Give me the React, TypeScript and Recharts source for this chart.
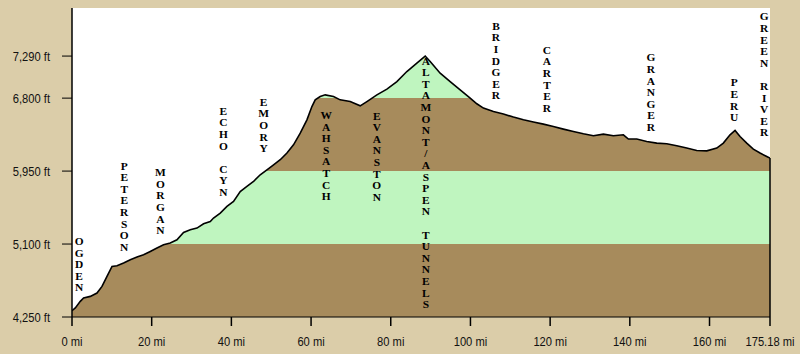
import React from 'react';
import { ComposedChart, Area, XAxis, YAxis, CartesianGrid, ReferenceDot, ReferenceLine } from 'recharts';

// Elevation profile (miles from Ogden, feet)
const miles = [
  0, 0.83, 2.08, 2.91, 4.59, 6.27, 7.53, 8.78, 10.04, 11.29, 12.95, 14.63, 16.31, 17.96, 19.64, 21.32,
  22.98, 24.66, 26.34, 28.0, 29.68, 31.36, 33.02, 34.7, 35.52, 37.21, 38.89, 40.54, 42.22, 43.9, 45.56,
  47.24, 48.92, 50.58, 52.26, 53.94, 55.59, 57.28, 58.96, 60.21, 61.04, 62.29, 63.55, 65.63, 67.31, 69.82,
  72.33, 74.01, 76.52, 79.03, 81.54, 84.04, 86.55, 88.64, 89.89, 92.4, 94.91, 97.42, 99.93, 101.6, 103.26,
  105.77, 108.28, 110.79, 113.3, 115.81, 118.31, 120.82, 123.33, 125.84, 128.35, 130.86, 133.37, 135.87,
  138.38, 139.64, 141.75, 144.25, 146.76, 149.27, 151.78, 154.29, 156.8, 159.31, 161.82, 163.47, 165.15,
  166.41, 167.66, 169.34, 171.0, 172.68, 174.36, 175.18,
];
const elevation = [
  4323, 4355, 4432, 4471, 4490, 4529, 4606, 4723, 4839, 4847, 4879, 4917, 4949, 4975, 5014, 5053,
  5092, 5112, 5150, 5235, 5267, 5286, 5336, 5363, 5403, 5461, 5538, 5596, 5712, 5771, 5829,
  5907, 5965, 6023, 6082, 6160, 6256, 6392, 6547, 6702, 6780, 6819, 6838, 6819, 6780, 6760,
  6710, 6760, 6838, 6905, 6993, 7110, 7208, 7290, 7226, 7091, 6993, 6897, 6800, 6734, 6684,
  6644, 6614, 6579, 6547, 6521, 6497, 6469, 6439, 6411, 6384, 6361, 6381, 6361,
  6373, 6323, 6323, 6295, 6276, 6268, 6245, 6218, 6190, 6186, 6218, 6276, 6373,
  6423, 6353, 6276, 6206, 6160, 6120, 6101,
];

const elevationTicks = [4250, 5100, 5950, 6800, 7290];
const mileTicks = [0, 20, 40, 60, 80, 100, 120, 140, 160, 175.18];
const bandsGreen = [[5100, 5950], [6800, 7290]];

const townNames = ['OGDEN', 'PETERSON', 'MORGAN', 'ECHO CYN', 'EMORY', 'WAHSATCH', 'EVANSTON',
  'ALTAMONT/ASPEN TUNNELS', 'BRIDGER', 'CARTER', 'GRANGER', 'PERU', 'GREEN RIVER'];
const townMiles = [1.8, 13.1, 22.2, 38.0, 48.1, 63.8, 76.5, 88.8, 106.4, 119.2, 145.3, 166.2, 173.7];
const townLabelTops = [5185, 6062, 5985, 6702, 6807, 6652, 6645, 7285, 7692, 7413, 7324, 7033, 7801];

const BASE = 4250;
const TOP = 7850;
const BG = '#dbcda9';
const BROWN = '#a78b5c';
const GREEN = '#bff5bf';

const data = miles.map((m, i) => ({ mile: m, elev: elevation[i] }));
const maxE = Math.max(...elevation);
const off = (v: number) => Math.min(1, Math.max(0, (maxE - v) / (maxE - BASE)));

function buildStops() {
  const stops: { o: number; c: string }[] = [];
  const bounds: { v: number; green: boolean }[] = [];
  bandsGreen.forEach(([lo, hi]) => {
    bounds.push({ v: hi, green: true });
    bounds.push({ v: lo, green: false });
  });
  bounds.sort((a, b) => b.v - a.v);
  let current = bounds.length && bounds[0].v >= maxE ? GREEN : BROWN;
  stops.push({ o: 0, c: current });
  bounds.forEach((b) => {
    if (b.v >= maxE) return;
    const o = off(b.v);
    stops.push({ o, c: current });
    current = b.green ? GREEN : BROWN;
    stops.push({ o, c: current });
  });
  stops.push({ o: 1, c: current });
  return stops;
}

const StackLabel = (props: any) => {
  const { cx, cy, name } = props;
  if (cx == null || cy == null) return null;
  const chars = name.split('');
  return (
    <text
      x={cx}
      y={cy}
      textAnchor="middle"
      fontFamily="'Liberation Serif', 'DejaVu Serif', serif"
      fontWeight="bold"
      fontSize={11.4}
      fill="#000"
    >
      {chars.map((ch: string, i: number) => (
        <tspan key={i} x={cx} dy={i === 0 ? 8.2 : 11.6}>
          {ch === ' ' ? '\u00a0' : ch}
        </tspan>
      ))}
    </text>
  );
};

const tickFont = "'Liberation Sans', Arial, sans-serif";

const YTick = (props: any) => {
  const { x, y, payload } = props;
  const label = `${Number(payload.value).toLocaleString('en-US')} ft`;
  return (
    <g transform={`translate(${x},${y})`}>
      <text x={0} y={0} dy="0.36em" textAnchor="end" fill="#111" fontSize={13} fontFamily={tickFont} transform="scale(0.86,1)">
        {label}
      </text>
    </g>
  );
};

const XTick = (props: any) => {
  const { x, y, payload } = props;
  const label = `${payload.value} mi`;
  return (
    <g transform={`translate(${x},${y})`}>
      <text x={0} y={0} dy="0.72em" textAnchor="middle" fill="#111" fontSize={13} fontFamily={tickFont} transform="scale(0.86,1)">
        {label}
      </text>
    </g>
  );
};

export default function App() {
  const stops = buildStops();
  return (
    <div style={{ position: 'absolute', left: 0, top: 0, width: 800, height: 354, background: BG }}>
      <ComposedChart
        width={800}
        height={354}
        data={data}
        margin={{ top: 8, right: 30, bottom: 0, left: 0 }}
      >
        <defs>
          <linearGradient id="profileFill" x1="0" y1="0" x2="0" y2="1">
            {stops.map((s, i) => (
              <stop key={i} offset={s.o} stopColor={s.c} stopOpacity={1} />
            ))}
          </linearGradient>
        </defs>
        <CartesianGrid horizontal={false} vertical={false} fill="#ffffff" fillOpacity={1} stroke="none" />
        <XAxis
          dataKey="mile"
          type="number"
          domain={[0, 175.18]}
          ticks={mileTicks}
          interval={0}
          height={37}
          tickSize={9}
          tickMargin={11}
          axisLine={{ stroke: '#000', strokeWidth: 1 }}
          tickLine={{ stroke: '#000', strokeWidth: 1.5 }}
          tick={<XTick />}
          allowDataOverflow
        />
        <YAxis
          type="number"
          domain={[BASE, TOP]}
          ticks={elevationTicks}
          interval={0}
          width={72}
          tickSize={10}
          tickMargin={12}
          axisLine={{ stroke: '#000', strokeWidth: 1.5 }}
          tickLine={{ stroke: '#000', strokeWidth: 1 }}
          tick={<YTick />}
          allowDataOverflow
        />
        <Area
          type="linear"
          dataKey="elev"
          baseValue={BASE}
          stroke="#000"
          strokeWidth={1.6}
          fill="url(#profileFill)"
          fillOpacity={1}
          isAnimationActive={false}
          dot={false}
          activeDot={false}
        />
        <ReferenceLine
          segment={[
            { x: miles[miles.length - 1], y: BASE },
            { x: miles[miles.length - 1], y: elevation[elevation.length - 1] },
          ]}
          stroke="#000"
          strokeWidth={1.5}
        />
        {townNames.map((name, i) => (
          <ReferenceDot
            key={name}
            x={townMiles[i]}
            y={townLabelTops[i]}
            r={0}
            ifOverflow="visible"
            shape={(p: any) => <StackLabel cx={p.cx} cy={p.cy} name={name} />}
          />
        ))}
      </ComposedChart>
    </div>
  );
}
